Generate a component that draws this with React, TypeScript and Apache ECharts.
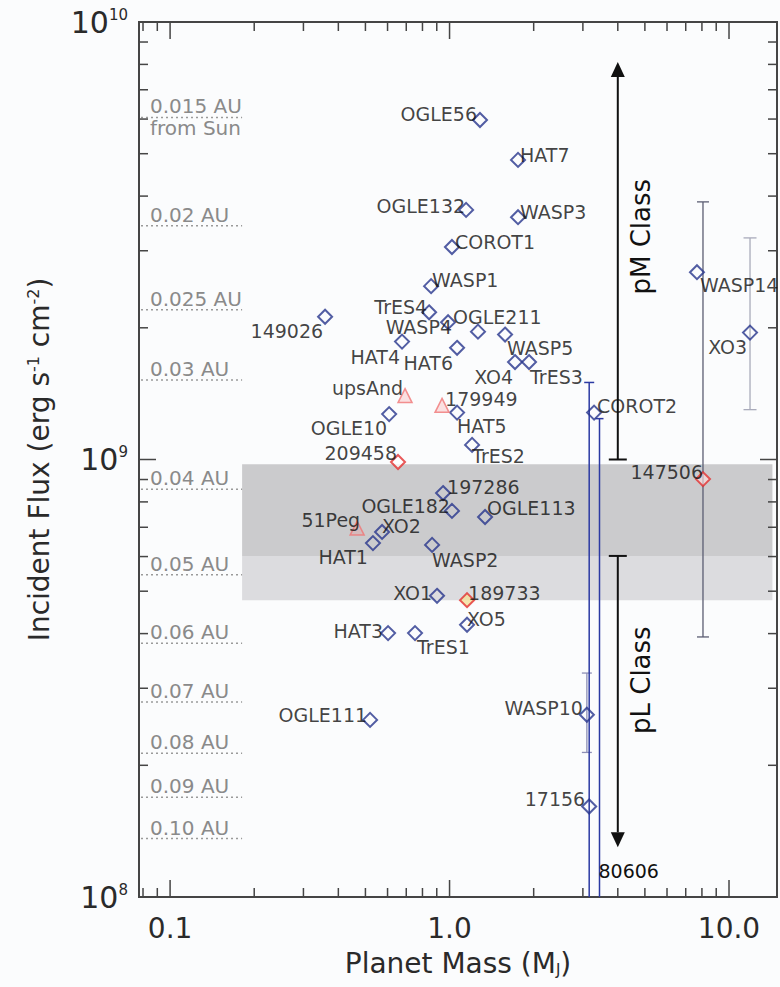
import React, { useEffect, useRef } from 'react';
import * as echarts from 'echarts';

const FONT = 'DejaVu Sans';

// ---------- axes ----------
const X_MIN = 0.0774;
const X_MAX = 14.85;
const Y_MIN = 1e8;
const Y_MAX = 1e10;

const xTickValues = [0.1, 1, 10];
const xTickLabels = ['0.1', '1.0', '10.0'];
const xMinorTicks = [0.08, 0.09, 0.2, 0.3, 0.4, 0.5, 0.6, 0.7, 0.8, 0.9, 2, 3, 4, 5, 6, 7, 8, 9];
const yTickValues = [1e8, 1e9, 1e10];
const yTickExponents = ['8', '9', '10'];
const yMinorTicks = [2e8, 3e8, 4e8, 5e8, 6e8, 7e8, 8e8, 9e8, 2e9, 3e9, 4e9, 5e9, 6e9, 7e9, 8e9, 9e9];

// ---------- planets (blue diamonds) ----------
const transitNames = ['OGLE56', 'HAT7', 'OGLE132', 'WASP3', 'COROT1', 'WASP1', 'TrES4', 'OGLE211', 'WASP4', '149026', 'WASP5', 'HAT4', 'HAT6', 'XO4', 'TrES3', 'HAT5', 'OGLE10', 'TrES2', 'COROT2', '197286', 'OGLE182', 'OGLE113', 'XO2', 'HAT1', 'WASP2', 'XO1', 'XO5', 'HAT3', 'TrES1', 'OGLE111', 'WASP10', '17156', 'WASP14', 'XO3'];
const transitMass = [1.285, 1.758, 1.146, 1.758, 1.02, 0.859, 0.845, 0.988, 1.264, 0.3586, 1.58, 0.676, 1.064, 1.715, 1.925, 1.064, 0.608, 1.204, 3.29, 0.948, 1.02, 1.34, 0.5735, 0.532, 0.866, 0.902, 1.155, 0.6026, 0.7525, 0.5195, 3.10, 3.16, 7.68, 11.89];
const transitFlux = [5.97e9, 4.84e9, 3.72e9, 3.58e9, 3.06e9, 2.49e9, 2.17e9, 2.06e9, 1.96e9, 2.12e9, 1.93e9, 1.86e9, 1.80e9, 1.67e9, 1.67e9, 1.28e9, 1.27e9, 1.08e9, 1.28e9, 8.38e8, 7.63e8, 7.39e8, 6.83e8, 6.44e8, 6.38e8, 4.88e8, 4.19e8, 4.01e8, 4.01e8, 2.54e8, 2.61e8, 1.61e8, 2.68e9, 1.95e9];

// ---------- red diamonds ----------
const rvDiamondNames = ['209458', '189733', '147506'];
const rvDiamondMass = [0.654, 1.155, 8.07];
const rvDiamondFlux = [9.87e8, 4.77e8, 9.02e8];

// ---------- red triangles ----------
const rvTriangleNames = ['upsAnd', '179949', '51Peg'];
const rvTriangleMass = [0.693, 0.94, 0.467];
const rvTriangleFlux = [1.40e9, 1.33e9, 6.97e8];

// ---------- flux ranges (error bars) ----------
const errNames = ['147506', 'XO3', 'WASP10', '17156', '80606'];
const errMass = [8.07, 11.89, 3.10, 3.16, 3.44];
const errLow = [3.93e8, 1.30e9, 2.14e8, 5e7, 5e7];
const errHigh = [3.88e9, 3.21e9, 3.25e8, 1.50e9, 1.24e9];

const offscaleNames = ['80606'];
const offscaleMass = [3.44];

// ---------- orbital distance references ----------
const auLabels = ['0.015 AU', '0.02 AU', '0.025 AU', '0.03 AU', '0.04 AU', '0.05 AU', '0.06 AU', '0.07 AU', '0.08 AU', '0.09 AU', '0.10 AU'];
const auFlux = [6.05e9, 3.42e9, 2.2e9, 1.52e9, 8.55e8, 5.45e8, 3.8e8, 2.79e8, 2.13e8, 1.69e8, 1.36e8];
const auNote = 'from Sun';
const auLineEnd = 0.181;

// ---------- class bands ----------
const bandMass = [0.181, 14.3];
const bandLow = [6.02e8, 4.77e8];
const bandHigh = [9.75e8, 6.02e8];

// ---------- class arrows ----------
const classNames = ['pM Class', 'pL Class'];
const classArrowMass = 4;
const classArrowFrom = [1.0e9, 6.02e8];
const classArrowTo = [8.1e9, 1.30e8];
const classLabelMass = 4.84;
const classLabelFlux = [3.23e9, 3.13e8];

// ---------- label layout (px offsets from marker centre) ----------
const labelLayout: Record<string, [number, number, string]> = {
  OGLE56: [-3, -6, 'right'], HAT7: [2, -5, 'left'], OGLE132: [-1, -4, 'right'], WASP3: [2, -5, 'left'],
  COROT1: [3, -5, 'left'], WASP1: [1, -6, 'left'], TrES4: [-2, -5, 'right'], OGLE211: [5, -5, 'left'],
  WASP4: [-26, -5, 'right'], '149026': [-2, 14, 'right'], WASP5: [2, 13, 'left'], HAT4: [-2, 15, 'right'],
  HAT6: [-4, 15, 'right'], XO4: [-2, 15, 'right'], TrES3: [1, 15, 'left'], HAT5: [0, 13, 'left'],
  OGLE10: [-2, 14, 'right'], TrES2: [0, 11, 'left'], COROT2: [3, -7, 'left'], '197286': [4, -6, 'left'],
  OGLE182: [-2, -5, 'right'], OGLE113: [2, -9, 'left'], XO2: [0, -6, 'left'], HAT1: [-5, 14, 'right'],
  WASP2: [0, 15, 'left'], XO1: [-5, -3, 'right'], XO5: [0, -6, 'left'], HAT3: [-5, -2, 'right'],
  TrES1: [2, 14, 'left'], OGLE111: [-3, -5, 'right'], WASP10: [-4, -7, 'right'], '17156': [-4, -8, 'right'],
  WASP14: [3, 13, 'left'], XO3: [-3, 14, 'right'], '209458': [-1, -9, 'right'], '189733': [1, -7, 'left'],
  '147506': [0, -7, 'right'], upsAnd: [-2, -8, 'right'], '179949': [3, -6, 'left'], '51Peg': [3, -8, 'right'],
};

const errColor: Record<string, string> = { '147506': '#5b5d72', XO3: '#a9abbb', WASP10: '#8d8fb6', '17156': '#2b3aa3', '80606': '#2b3aa3' };
const errCap: Record<string, number> = { '147506': 12, XO3: 13, WASP10: 10, '17156': 10, '80606': 8 };
const rvFill: Record<string, string> = { '209458': 'rgba(255,255,255,0.9)', '189733': '#f3df9a', '147506': 'rgba(255,220,220,0.8)' };

const TEXT = '#111111';

function makePoints(names: string[], mass: number[], flux: number[], fills?: Record<string, string>) {
  return names.map((n, i) => {
    const lay = labelLayout[n] || [0, -10, 'center'];
    const item: any = {
      name: n,
      value: [mass[i], flux[i]],
      label: { offset: [lay[0], lay[1]], align: lay[2] },
    };
    if (fills && fills[n]) item.itemStyle = { color: fills[n] };
    return item;
  });
}

export default function App() {
  const ref = useRef<HTMLDivElement>(null);

  useEffect(() => {
    if (!ref.current) return;
    const chart = echarts.init(ref.current, null, { renderer: 'svg' });

    const pointLabel = {
      show: true,
      position: 'inside',
      formatter: '{b}',
      fontFamily: FONT,
      fontSize: 19,
      color: TEXT,
      verticalAlign: 'middle',
    };

    const option: any = {
      animation: false,
      backgroundColor: '#fbfcfd',
      grid: { left: 139, top: 22, right: 3, bottom: 90, show: true, borderColor: '#454545', borderWidth: 2, backgroundColor: 'transparent' },
      xAxis: {
        type: 'log',
        logBase: 10,
        min: X_MIN,
        max: X_MAX,
        axisLine: { show: false },
        axisTick: { show: false },
        splitLine: { show: false },
        axisLabel: {
          margin: 17,
          fontFamily: FONT,
          fontSize: 28,
          color: '#2a2a2a',
          showMinLabel: false,
          showMaxLabel: false,
          formatter: (v: number) => {
            const i = xTickValues.findIndex((t) => Math.abs(Math.log10(v) - Math.log10(t)) < 1e-6);
            return i >= 0 ? xTickLabels[i] : '';
          },
        },
        name: '{t|Planet Mass (M}{sb|J}{t|)}',
        nameLocation: 'middle',
        nameGap: 52,
        nameTextStyle: {
          fontFamily: FONT,
          color: '#2a2a2a',
          rich: {
            t: { fontFamily: FONT, fontSize: 28, color: '#2a2a2a' },
            sb: { fontFamily: FONT, fontSize: 15, color: '#2a2a2a', verticalAlign: 'bottom' },
          },
        },
      },
      yAxis: {
        type: 'log',
        logBase: 10,
        min: Y_MIN,
        max: Y_MAX,
        axisLine: { show: false },
        axisTick: { show: false },
        splitLine: { show: false },
        axisLabel: {
          margin: 11,
          showMinLabel: true,
          showMaxLabel: true,
          formatter: (v: number) => {
            const e = Math.round(Math.log10(v));
            const i = yTickValues.findIndex((t) => Math.round(Math.log10(t)) === e);
            return i >= 0 ? `{b|10}{s|${yTickExponents[i]}}` : '';
          },
          rich: {
            b: { fontFamily: FONT, fontSize: 30, color: '#2a2a2a' },
            s: { fontFamily: FONT, fontSize: 15, color: '#2a2a2a', verticalAlign: 'top' },
          },
        },
        name: '{t|Incident Flux (erg s}{sp|-1}{t| cm}{sp|-2}{t|)}',
        nameLocation: 'middle',
        nameGap: 86,
        nameRotate: 90,
        nameTextStyle: {
          fontFamily: FONT,
          color: '#2a2a2a',
          rich: {
            t: { fontFamily: FONT, fontSize: 28, color: '#2a2a2a' },
            sp: { fontFamily: FONT, fontSize: 16, color: '#2a2a2a', verticalAlign: 'top' },
          },
        },
      },
      series: [
        {
          type: 'custom',
          silent: true,
          z: 1,
          data: bandLow.map((lo, i) => [bandMass[0], lo, bandHigh[i]]),
          renderItem: (params: any, api: any) => {
            const i = params.dataIndex;
            const p0 = api.coord([bandMass[0], bandHigh[i]]);
            const p1 = api.coord([bandMass[1], bandLow[i]]);
            return {
              type: 'rect',
              shape: { x: p0[0], y: p0[1], width: p1[0] - p0[0], height: p1[1] - p0[1] },
              style: { fill: i === 0 ? '#cbcbcd' : '#dcdcdf' },
            };
          },
        },
        {
          type: 'custom',
          silent: true,
          z: 2,
          data: auFlux.map((f) => [auLineEnd, f]),
          renderItem: (params: any, api: any) => {
            const i = params.dataIndex;
            const a = api.coord([X_MIN, auFlux[i]]);
            const b = api.coord([auLineEnd, auFlux[i]]);
            const children: any[] = [
              { type: 'line', shape: { x1: a[0] + 2, y1: a[1], x2: b[0], y2: b[1] }, style: { stroke: '#9a9a9a', lineWidth: 1.5, lineDash: [2, 3] } },
              { type: 'text', x: a[0] + 11, y: a[1] - 11, style: { text: auLabels[i], fontFamily: FONT, fontSize: 20, fill: '#8a8a8a', align: 'left', verticalAlign: 'middle' } },
            ];
            if (i === 0) {
              children.push({ type: 'text', x: a[0] + 11, y: a[1] + 11, style: { text: auNote, fontFamily: FONT, fontSize: 20, fill: '#8a8a8a', align: 'left', verticalAlign: 'middle' } });
            }
            return { type: 'group', children };
          },
        },
        {
          type: 'custom',
          silent: true,
          z: 3,
          data: [[1, 1e9]],
          renderItem: (params: any, api: any) => {
            const bl = api.coord([X_MIN, Y_MIN]);
            const tr = api.coord([X_MAX, Y_MAX]);
            const children: any[] = [];
            const st = { stroke: '#454545', lineWidth: 1.5 };
            const add = (x1: number, y1: number, x2: number, y2: number) => children.push({ type: 'line', shape: { x1, y1, x2, y2 }, style: st });
            const xt = (v: number, len: number) => {
              const x = api.coord([v, Y_MIN])[0];
              add(x, bl[1], x, bl[1] - len);
              add(x, tr[1], x, tr[1] + len);
            };
            const yt = (v: number, len: number) => {
              const y = api.coord([X_MIN, v])[1];
              add(bl[0], y, bl[0] + len, y);
              add(tr[0], y, tr[0] - len, y);
            };
            xTickValues.forEach((v) => xt(v, 17));
            xMinorTicks.forEach((v) => xt(v, 9));
            yTickValues.forEach((v) => yt(v, 17));
            yMinorTicks.forEach((v) => yt(v, 9));
            return { type: 'group', children };
          },
        },
        {
          type: 'custom',
          silent: true,
          z: 4,
          data: errMass.map((m, i) => [m, errHigh[i]]),
          renderItem: (params: any, api: any) => {
            const i = params.dataIndex;
            const name = errNames[i];
            const bottom = api.coord([X_MIN, Y_MIN])[1];
            const hi = api.coord([errMass[i], errHigh[i]]);
            const loRaw = api.coord([errMass[i], errLow[i]]);
            const lo = [loRaw[0], Math.min(loRaw[1], bottom)];
            const c = errColor[name];
            const w = errCap[name] / 2;
            const lw = name === '17156' || name === '80606' ? 1.5 : 1.3;
            const children: any[] = [
              { type: 'line', shape: { x1: hi[0], y1: hi[1], x2: lo[0], y2: lo[1] }, style: { stroke: c, lineWidth: lw } },
              { type: 'line', shape: { x1: hi[0] - w, y1: hi[1], x2: hi[0] + w, y2: hi[1] }, style: { stroke: c, lineWidth: lw } },
            ];
            if (errLow[i] >= Y_MIN) {
              children.push({ type: 'line', shape: { x1: lo[0] - w, y1: lo[1], x2: lo[0] + w, y2: lo[1] }, style: { stroke: c, lineWidth: lw } });
            }
            const oi = offscaleNames.indexOf(name);
            if (oi >= 0) {
              const ox = api.coord([offscaleMass[oi], Y_MIN])[0];
              children.push({ type: 'text', x: ox - 1, y: bottom - 26, style: { text: offscaleNames[oi], fontFamily: FONT, fontSize: 19, fill: TEXT, align: 'left', verticalAlign: 'middle' } });
            }
            return { type: 'group', children };
          },
        },
        {
          type: 'custom',
          silent: true,
          z: 4,
          data: classArrowFrom.map((f) => [classArrowMass, f]),
          renderItem: (params: any, api: any) => {
            const i = params.dataIndex;
            const p0 = api.coord([classArrowMass, classArrowFrom[i]]);
            const p1 = api.coord([classArrowMass, classArrowTo[i]]);
            const dir = p1[1] < p0[1] ? -1 : 1;
            const head = 15;
            const hw = 7;
            const lp = api.coord([classLabelMass, classLabelFlux[i]]);
            return {
              type: 'group',
              children: [
                { type: 'line', shape: { x1: p0[0], y1: p0[1], x2: p1[0], y2: p1[1] - dir * head }, style: { stroke: '#111', lineWidth: 2 } },
                { type: 'line', shape: { x1: p0[0] - 9, y1: p0[1], x2: p0[0] + 9, y2: p0[1] }, style: { stroke: '#111', lineWidth: 2 } },
                { type: 'polygon', shape: { points: [[p1[0], p1[1]], [p1[0] - hw, p1[1] - dir * head], [p1[0] + hw, p1[1] - dir * head]] }, style: { fill: '#111' } },
                { type: 'text', x: lp[0], y: lp[1], rotation: Math.PI / 2, style: { text: classNames[i], fontFamily: FONT, fontSize: 26, fill: '#111', align: 'center', verticalAlign: 'middle' } },
              ],
            };
          },
        },
        {
          type: 'scatter',
          silent: true,
          z: 6,
          symbol: 'diamond',
          symbolSize: 14,
          itemStyle: { color: 'rgba(255,255,255,0)', borderColor: '#27358c', borderWidth: 2 },
          label: pointLabel,
          data: makePoints(transitNames, transitMass, transitFlux),
        },
        {
          type: 'scatter',
          silent: true,
          z: 6,
          symbol: 'diamond',
          symbolSize: 14,
          itemStyle: { color: 'rgba(255,255,255,0.9)', borderColor: '#e3302f', borderWidth: 2 },
          label: pointLabel,
          data: makePoints(rvDiamondNames, rvDiamondMass, rvDiamondFlux, rvFill),
        },
        {
          type: 'scatter',
          silent: true,
          z: 6,
          symbol: 'triangle',
          symbolSize: 14,
          itemStyle: { color: 'rgba(245,140,140,0.3)', borderColor: '#f07575', borderWidth: 1.5 },
          label: pointLabel,
          data: makePoints(rvTriangleNames, rvTriangleMass, rvTriangleFlux),
        },
      ],
    };

    chart.setOption(option);
    return () => {
      chart.dispose();
    };
  }, []);

  return <div ref={ref} style={{ position: 'absolute', left: 0, top: 0, width: 780, height: 987 }} />;
}
